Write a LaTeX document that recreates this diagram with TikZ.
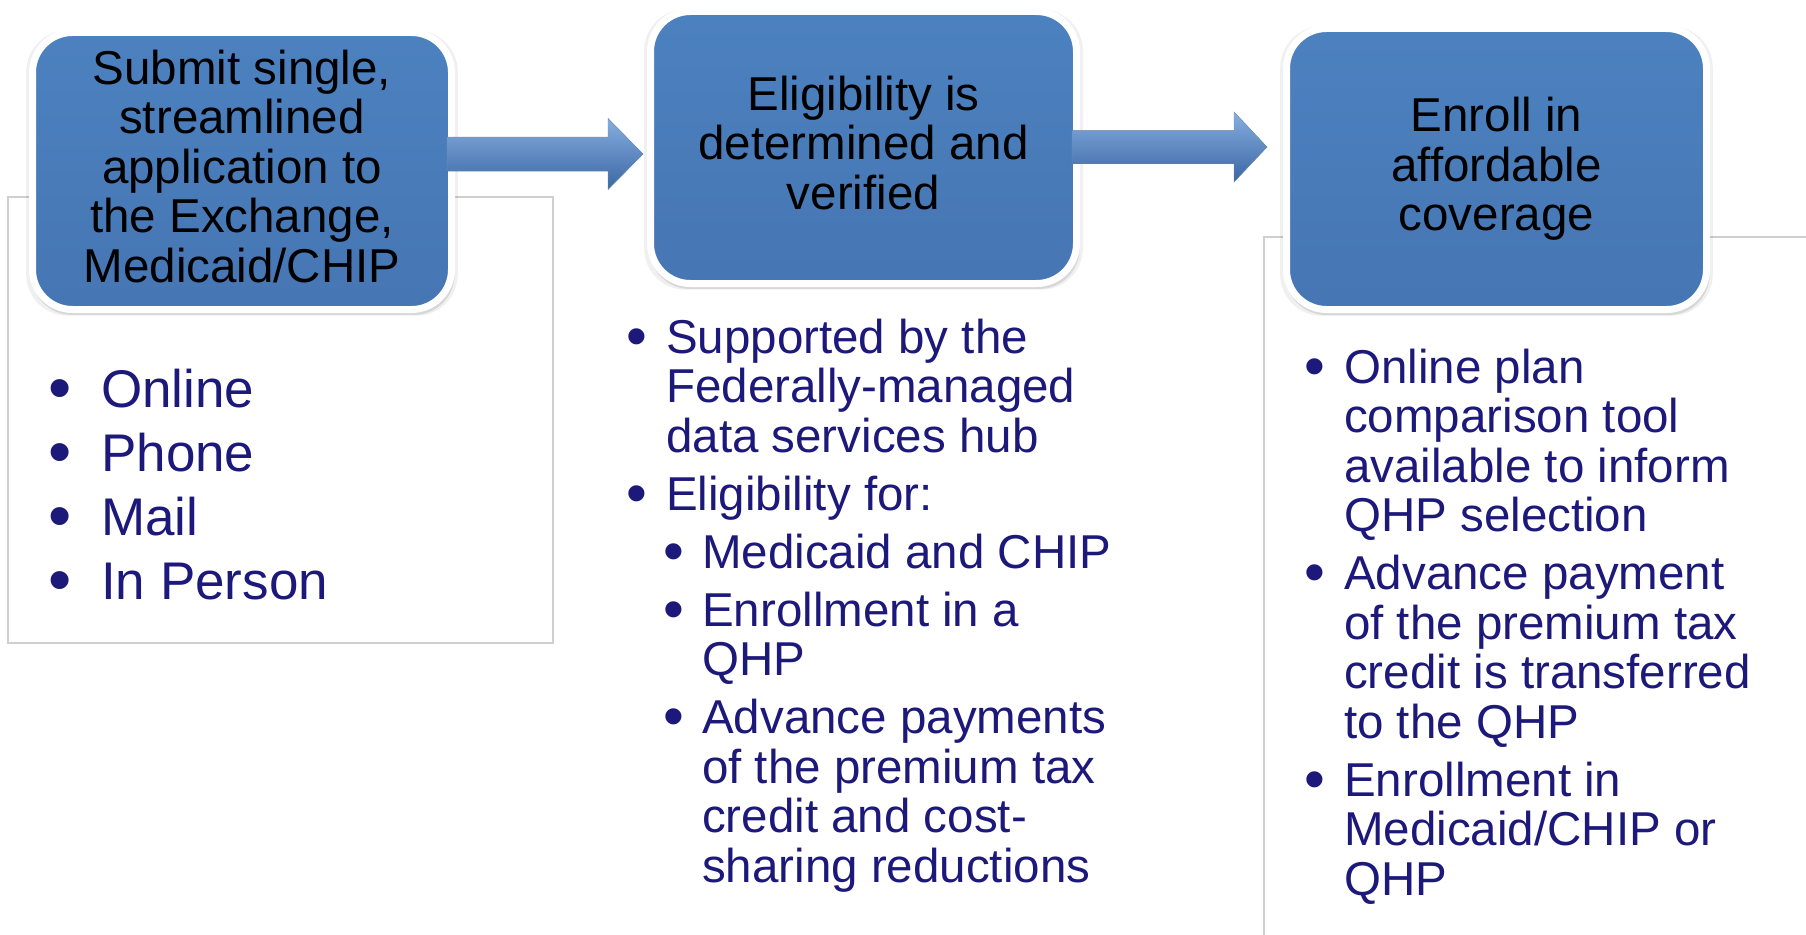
\documentclass[tikz,border=0pt]{standalone}
\usepackage{fontspec}
\setmainfont{Liberation Sans}
\usetikzlibrary{calc,shadows}
\definecolor{boxtop}{HTML}{4C81BF}
\definecolor{boxbot}{HTML}{4676B3}
\definecolor{listblue}{RGB}{28,25,122}
\definecolor{arrtop}{HTML}{86AEE0}
\definecolor{arrmid}{HTML}{4F81BD}
\definecolor{arrbot}{HTML}{3A66A3}
\definecolor{framegray}{HTML}{CFCFCF}
\newcommand\bfont{\fontsize{47.5}{49.5}\selectfont}
\newcommand\bulmark{\raisebox{-3pt}{\scalebox{1.25}{•}}}
\newcommand\bitem[1]{\par\noindent\llap{\makebox[0pt][c]{\bulmark}\hspace{#1}}}
\tikzset{
  stepbox/.style={rounded corners=40pt, draw=white, line width=7pt,
    top color=boxtop, bottom color=boxbot, align=center, font=\bfont,
    text=black, inner sep=0pt, text depth=9.5pt,
    general shadow={fill=black, opacity=.10, shadow yshift=-4pt, shadow xshift=1pt, shadow scale=1.01},
    general shadow={fill=black, opacity=.06, shadow yshift=-2pt, shadow scale=1.03}},
  frame/.style={draw=framegray, line width=1.6pt},
  listtext/.style={anchor=base west, inner sep=0pt, text=listblue},
  blockarrow/.style={shading=axis, top color=arrtop, middle color=arrmid, bottom color=arrbot,
    draw=arrbot!70, line width=0.4pt}
}
\begin{document}
\begin{tikzpicture}[x=1pt,y=-1pt]
\useasboundingbox (0,0) rectangle (1806,934);
\fill[white] (0,0) rectangle (1806,934);
% frames behind
\draw[frame] (8,197) rectangle (553,643);
\draw[frame] (1264,237) rectangle (1830,960);
% boxes
\node[stepbox, minimum width=419pt, minimum height=277pt] (b1) at (242,171)
  {Submit single,\\streamlined\\application to\\the Exchange,\\Medicaid/CHIP};
\node[stepbox, minimum width=426pt, minimum height=272pt] (b2) at (863.5,147.5)
  {Eligibility is\\determined and\\verified};
\node[stepbox, minimum width=420pt, minimum height=281pt] (b3) at (1496.5,169)
  {Enroll in\\affordable\\coverage};
% arrows
\coordinate (a1s) at ($(b1.east |- 0,154)+(-8,0)$);
\coordinate (a1e) at ($(b2.west |- 0,154)+(-4,0)$);
\fill[blockarrow] ($(a1s)+(0,-17)$) -- ($(a1e)+(-35,-17)$) -- ($(a1e)+(-35,-35.5)$) -- (a1e)
  -- ($(a1e)+(-35,35.5)$) -- ($(a1e)+(-35,17)$) -- ($(a1s)+(0,17)$) -- cycle;
\coordinate (a2s) at ($(b2.east |- 0,147)+(-8,0)$);
\coordinate (a2e) at ($(b3.west |- 0,147)+(-16,0)$);
\fill[blockarrow] ($(a2s)+(0,-16.5)$) -- ($(a2e)+(-33,-16.5)$) -- ($(a2e)+(-33,-35)$) -- (a2e)
  -- ($(a2e)+(-33,35)$) -- ($(a2e)+(-33,16.5)$) -- ($(a2s)+(0,16.5)$) -- cycle;
% lists
\node[listtext] (l1) at (101,407) {\begin{minipage}[t]{440pt}\raggedright\fontsize{53}{64}\selectfont
\bitem{41pt}Online
\bitem{41pt}Phone
\bitem{41pt}Mail
\bitem{41pt}In Person\par
\end{minipage}};
\node[listtext] (l2) at (666,353) {\begin{minipage}[t]{520pt}\raggedright\bfont\setlength{\parskip}{8.5pt}
\bitem{29pt}Supported by the\\Federally-managed\\data services hub
\bitem{29pt}Eligibility for:
\par\leftskip=36pt
\bitem{28pt}Medicaid and CHIP
\bitem{28pt}Enrollment in a\\QHP
\bitem{28pt}Advance payments\\of the premium tax\\credit and cost-\\sharing reductions\par
\end{minipage}};
\node[listtext] (l3) at (1344,383) {\begin{minipage}[t]{460pt}\raggedright\bfont\setlength{\parskip}{8.5pt}
\bitem{29pt}Online plan\\comparison tool\\available to inform\\QHP selection
\bitem{29pt}Advance payment\\of the premium tax\\credit is transferred\\to the QHP
\bitem{29pt}Enrollment in\\Medicaid/CHIP or\\QHP\par
\end{minipage}};
\end{tikzpicture}
\end{document}
